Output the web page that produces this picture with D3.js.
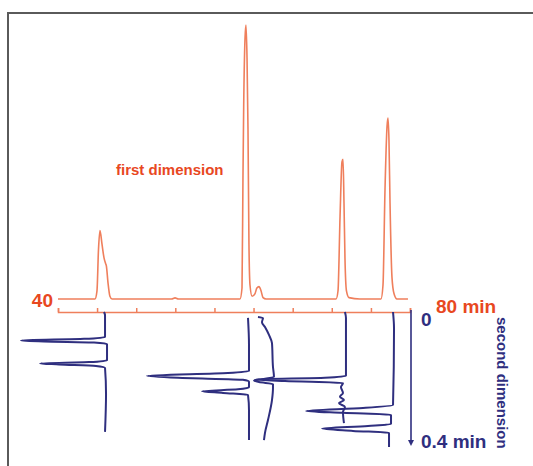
<!DOCTYPE html>
<html>
<head>
<meta charset="utf-8">
<script src="https://cdn.jsdelivr.net/npm/d3@7"></script>
<style>
  body { margin: 0; background: #fff; }
  svg { display: block; }
  text { font-family: "Liberation Sans", Arial, sans-serif; font-weight: bold; }
</style>
</head>
<body>
<div id="chart"></div>
<script>
// first dimension trace: [retention time (min), intensity]
var first_dim = [
    [40.0, 0], [44.2, 0], [44.43, 3], [44.6, 18], [44.77, 25], [45.0, 20], [45.23, 15],
    [45.4, 13], [45.5, 12], [45.68, 6], [45.9, 1], [46.14, 0],
    [52.9, 0], [53.3, 0.4], [53.7, 0], [60.68, 0], [60.91, 4], [61.02, 45], [61.1, 70],
    [61.25, 95], [61.36, 100], [61.48, 88], [61.59, 62], [61.7, 20], [61.82, 5],
    [62.05, 1], [62.39, 2], [62.6, 4], [62.84, 4.5], [63.07, 3], [63.3, 0.5], [63.64, 0],
    [71.6, 0], [71.82, 3], [72.05, 30], [72.27, 50], [72.39, 51], [72.5, 35], [72.61, 15],
    [72.78, 3], [73.07, 0.5], [74.3, 0],
    [76.7, 0], [76.93, 5], [77.16, 40], [77.39, 63], [77.5, 66], [77.61, 58], [77.73, 35],
    [77.95, 8], [78.18, 2], [78.52, 0], [79.77, 0]
];

var first_ticks = [40, 44.44, 48.89, 53.33, 57.78, 62.22, 66.67, 71.11, 75.56, 80];

// second dimension traces: first dimension position, then [time (min), intensity]
var second_dim = [
    { "at": 45.23, "points": [
        [0, 0], [0.01, -1], [0.03, -1], [0.076, -1], [0.082, 20], [0.087, 83], [0.090, 60],
        [0.093, 10], [0.098, -3], [0.147, -3], [0.153, 15], [0.157, 64], [0.160, 45],
        [0.165, 8], [0.171, -1], [0.25, -2], [0.366, -1]] },
    { "at": 61.59, "points": [
        [0.018, 0], [0.1, -1], [0.18, -1], [0.186, 20], [0.195, 101], [0.201, 70], [0.207, 5],
        [0.213, -1], [0.23, -1], [0.236, 10], [0.242, 46], [0.247, 25], [0.253, 0],
        [0.3, -1], [0.391, -1]] },
    { "at": 63.18, "points": [
        [0.015, 4], [0.018, -1], [0.031, 0], [0.046, -3], [0.070, -7], [0.095, -10],
        [0.168, -11], [0.198, -12], [0.205, 0], [0.209, 8], [0.214, 3], [0.220, -11],
        [0.232, -11], [0.269, -10], [0.330, -6], [0.369, -3], [0.391, -2]] },
    { "at": 72.61, "points": [
        [0, 0], [0.018, -1], [0.195, -1], [0.201, 20], [0.206, 90], [0.211, 60], [0.217, 2],
        [0.229, 4], [0.247, 2], [0.259, 5], [0.269, 1], [0.278, 6], [0.290, 0],
        [0.305, 2], [0.339, 1]] },
    { "at": 78.07, "points": [
        [0, 0], [0.05, -1], [0.284, 0], [0.293, 30], [0.302, 87], [0.308, 50], [0.314, 2],
        [0.342, 2], [0.348, 25], [0.356, 71], [0.363, 40], [0.369, 4], [0.412, 4]] }
];

var width = 533, height = 466;
var red = "#ef7f5c", red_text = "#e8481f", navy = "#2f2f7f";

var svg = d3.select("#chart").append("svg")
    .attr("width", width)
    .attr("height", height);

// frame
svg.append("path")
    .attr("d", "M8,466 V13 H533")
    .attr("fill", "none")
    .attr("stroke", "#5a5a5a")
    .attr("stroke-width", 2);

var x = d3.scaleLinear().domain([40, 80]).range([58, 410]);
var y_first = d3.scaleLinear().domain([0, 100]).range([299, 25]);
var y_second = d3.scaleLinear().domain([0, 0.4]).range([312, 443]);
var intensity = d3.scaleLinear().domain([0, 100]).range([0, 100]);

// first dimension chromatogram
var first_line = d3.line()
    .x(function(d) { return x(d[0]); })
    .y(function(d) { return y_first(d[1]); })
    .curve(d3.curveMonotoneX);

svg.append("path")
    .datum(first_dim)
    .attr("d", first_line)
    .attr("fill", "none")
    .attr("stroke", red)
    .attr("stroke-width", 1.6);

var axis = svg.append("g")
    .attr("transform", "translate(0,312)")
    .call(d3.axisTop(x).tickValues(first_ticks).tickSize(4).tickSizeOuter(4).tickFormat(""));
axis.selectAll("path, line").attr("stroke", red).attr("stroke-width", 1.5);

// second dimension chromatograms
second_dim.forEach(function(trace) {
    var line = d3.line()
        .x(function(d) { return x(trace.at) - intensity(d[1]); })
        .y(function(d) { return y_second(d[0]); })
        .curve(d3.curveMonotoneY);

    svg.append("path")
        .datum(trace.points)
        .attr("d", line)
        .attr("fill", "none")
        .attr("stroke", navy)
        .attr("stroke-width", 2)
        .attr("stroke-linejoin", "round");
});

// second dimension time arrow
svg.append("defs").append("marker")
    .attr("id", "arrowhead")
    .attr("viewBox", "0 0 10 10")
    .attr("refX", 5)
    .attr("refY", 5)
    .attr("markerWidth", 6)
    .attr("markerHeight", 6)
    .attr("markerUnits", "userSpaceOnUse")
    .attr("orient", "auto")
    .append("path")
    .attr("d", "M 0 0 L 10 5 L 0 10 z")
    .attr("fill", navy);

svg.append("line")
    .attr("x1", 411).attr("x2", 411)
    .attr("y1", y_second(0) - 2).attr("y2", y_second(0.4))
    .attr("stroke", navy)
    .attr("stroke-width", 1.6)
    .attr("marker-end", "url(#arrowhead)");

// labels
svg.append("text").attr("x", 53).attr("y", 307).attr("text-anchor", "end")
    .attr("font-size", 19).attr("fill", red_text).text("40");
svg.append("text").attr("x", 436).attr("y", 313)
    .attr("font-size", 19).attr("fill", red_text).text("80 min");
svg.append("text").attr("x", 116).attr("y", 175)
    .attr("font-size", 15).attr("fill", red_text).text("first dimension");
svg.append("text").attr("x", 421).attr("y", 326)
    .attr("font-size", 19).attr("fill", navy).text("0");
svg.append("text").attr("x", 421).attr("y", 448)
    .attr("font-size", 19).attr("fill", navy).text("0.4 min");
svg.append("text")
    .attr("transform", "translate(497,317) rotate(90)")
    .attr("font-size", 15).attr("fill", navy).text("second dimension");
</script>
</body>
</html>
